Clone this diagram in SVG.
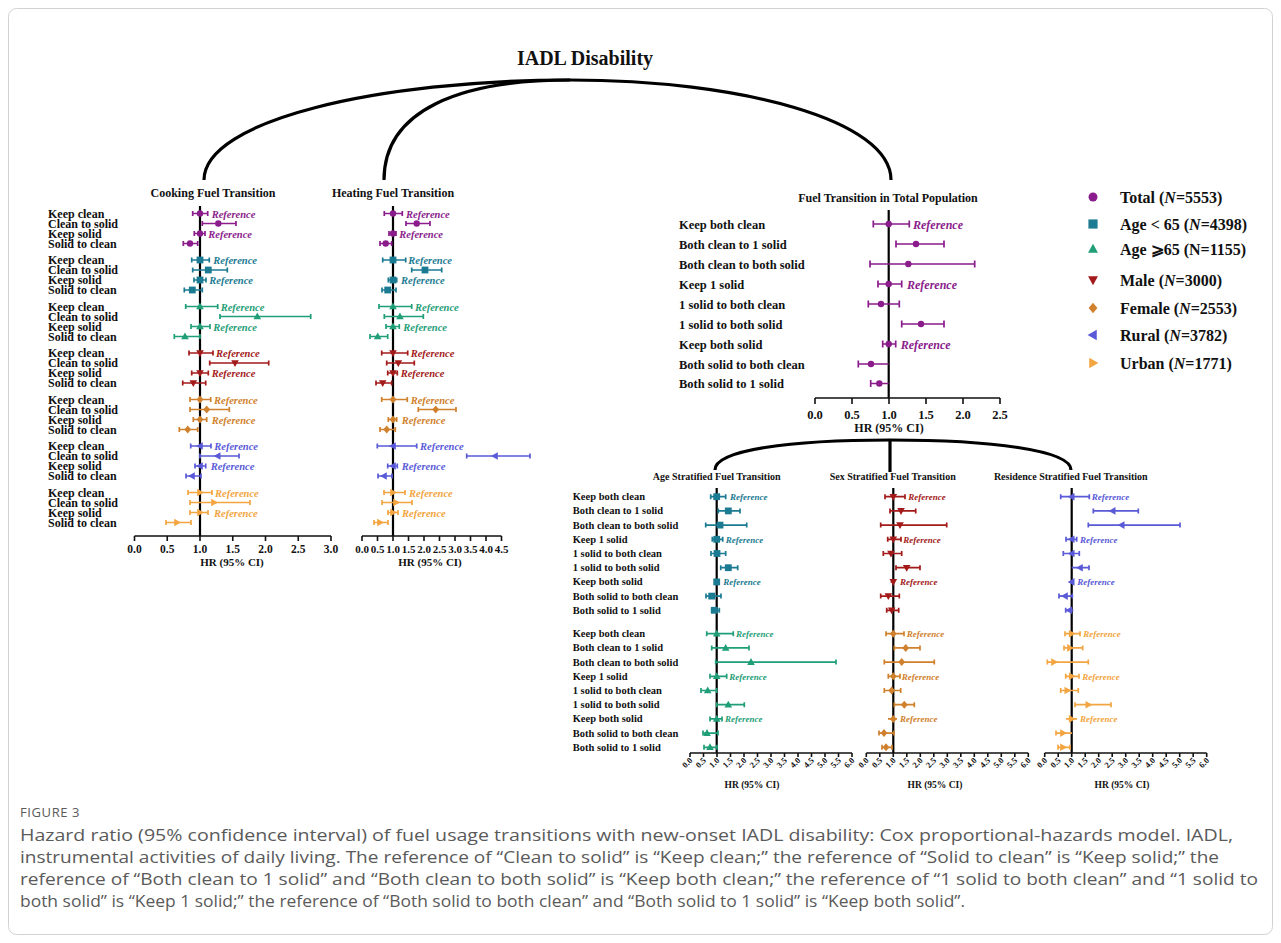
<svg xmlns="http://www.w3.org/2000/svg" width="1281" height="943" viewBox="0 0 1281 943">
<defs>
<style>
.t{font-family:"Liberation Serif","Times New Roman","DejaVu Serif",serif;font-weight:bold;fill:#111}
.rf{font-style:italic}
.ax{fill:none;stroke:#111;stroke-width:1.6}
.vl{fill:none;stroke:#000;stroke-width:2.2}
.br{fill:none;stroke-width:1.7}
.arc{fill:none;stroke:#000;stroke-width:3.2}
.cap{font-family:"Open Sans","Noto Sans",sans-serif;fill:#5a5a5a}
.sP{stroke:#8a1c8c}.fP{fill:#8a1c8c}
.sT{stroke:#1b7b92}.fT{fill:#1b7b92}
.sG{stroke:#1f9e78}.fG{fill:#1f9e78}
.sR{stroke:#a31a1a}.fR{fill:#a31a1a}
.sO{stroke:#d0812d}.fO{fill:#d0812d}
.sB{stroke:#5a5ad8}.fB{fill:#5a5ad8}
.sU{stroke:#f2a541}.fU{fill:#f2a541}
</style>
<circle id="mc" r="3.2"/>
<rect id="ms" x="-3.4" y="-3.4" width="6.8" height="6.8"/>
<path id="mu" d="M0,-4 L3.8,2.8 L-3.8,2.8Z"/>
<path id="mdn" d="M-3.8,-2.8 L3.8,-2.8 L0,4Z"/>
<path id="mdi" d="M0,-4 L3.4,0 L0,4 L-3.4,0Z"/>
<path id="ml" d="M-4,0 L2.8,-3.8 L2.8,3.8Z"/>
<path id="mr" d="M4,0 L-2.8,-3.8 L-2.8,3.8Z"/>
</defs>
<rect x="8.5" y="8.5" width="1264" height="926" rx="8" fill="#fff" stroke="#d2d2d2"/>

<g id="title"><text class="t" x="585" y="65" font-size="20" text-anchor="middle">IADL Disability</text></g>

<g id="connectors">
<path class="arc" d="M204,180 C204,120 380,80 570,80"/>
<path class="arc" d="M384,180 C384,110 460,80 570,80"/>
<path class="arc" d="M570,80 C740,80 891,120 891,180"/>
<path class="arc" stroke-width="2.6" d="M715,470 C715,450 790,440 890,440 C990,440 1071,450 1071,470"/>
<path class="arc" stroke-width="2.6" d="M890,440 V472"/>
</g>

<g id="panel-cooking">
<text class="t" x="213" y="197" font-size="12" text-anchor="middle">Cooking Fuel Transition</text>
<text class="t" font-size="12">
<tspan x="48" y="217.5">Keep clean</tspan><tspan x="48" y="227.5">Clean to solid</tspan><tspan x="48" y="237.5">Keep solid</tspan><tspan x="48" y="247.5">Solid to clean</tspan>
<tspan x="48" y="264">Keep clean</tspan><tspan x="48" y="274">Clean to solid</tspan><tspan x="48" y="284">Keep solid</tspan><tspan x="48" y="294">Solid to clean</tspan>
<tspan x="48" y="310.5">Keep clean</tspan><tspan x="48" y="320.5">Clean to solid</tspan><tspan x="48" y="330.5">Keep solid</tspan><tspan x="48" y="340.5">Solid to clean</tspan>
<tspan x="48" y="357">Keep clean</tspan><tspan x="48" y="367">Clean to solid</tspan><tspan x="48" y="377">Keep solid</tspan><tspan x="48" y="387">Solid to clean</tspan>
<tspan x="48" y="403.5">Keep clean</tspan><tspan x="48" y="413.5">Clean to solid</tspan><tspan x="48" y="423.5">Keep solid</tspan><tspan x="48" y="433.5">Solid to clean</tspan>
<tspan x="48" y="450">Keep clean</tspan><tspan x="48" y="460">Clean to solid</tspan><tspan x="48" y="470">Keep solid</tspan><tspan x="48" y="480">Solid to clean</tspan>
<tspan x="48" y="496.5">Keep clean</tspan><tspan x="48" y="506.5">Clean to solid</tspan><tspan x="48" y="516.5">Keep solid</tspan><tspan x="48" y="526.5">Solid to clean</tspan>
</text>
<path class="vl" d="M200,206V536"/>
<path class="br sP" d="M192.7,213.5H207.7M192.7,211V216M207.7,211V216M202.3,223.5H236M202.3,221V226M236,221V226M194.3,233.5H205M194.3,231V236M205,231V236M183.3,243.5H197.7M183.3,241V246M197.7,241V246"/>
<g class="fP"><use href="#mc" x="200" y="213.5"/><use href="#mc" x="218.3" y="223.5"/><use href="#mc" x="200" y="233.5"/><use href="#mc" x="190" y="243.5"/></g>
<path class="br sT" d="M191.7,260H209.3M191.7,257.5V262.5M209.3,257.5V262.5M192.7,270H227.3M192.7,267.5V272.5M227.3,267.5V272.5M194,280H206M194,277.5V282.5M206,277.5V282.5M184.3,290H202.3M184.3,287.5V292.5M202.3,287.5V292.5"/>
<g class="fT"><use href="#ms" x="200" y="260"/><use href="#ms" x="208.3" y="270"/><use href="#ms" x="200" y="280"/><use href="#ms" x="192.3" y="290"/></g>
<path class="br sG" d="M185.7,306.5H217.7M185.7,304V309M217.7,304V309M220,316.5H310.7M220,314V319M310.7,314V319M191,326.5H210M191,324V329M210,324V329M174.3,336.5H200M174.3,334V339M200,334V339"/>
<g class="fG"><use href="#mu" x="200" y="306.5"/><use href="#mu" x="257.3" y="316.5"/><use href="#mu" x="200" y="326.5"/><use href="#mu" x="185" y="336.5"/></g>
<path class="br sR" d="M189,353H213M189,350.5V355.5M213,350.5V355.5M209.7,363H268.7M209.7,360.5V365.5M268.7,360.5V365.5M191.7,373H208.3M191.7,370.5V375.5M208.3,370.5V375.5M182.7,383H205.7M182.7,380.5V385.5M205.7,380.5V385.5"/>
<g class="fR"><use href="#mdn" x="200" y="353"/><use href="#mdn" x="235" y="363"/><use href="#mdn" x="200" y="373"/><use href="#mdn" x="193.3" y="383"/></g>
<path class="br sO" d="M190,399.5H210.7M190,397V402M210.7,397V402M190,409.5H229.3M190,407V412M229.3,407V412M193.3,419.5H206.7M193.3,417V422M206.7,417V422M179.3,429.5H197.7M179.3,427V432M197.7,427V432"/>
<g class="fO"><use href="#mdi" x="200" y="399.5"/><use href="#mdi" x="206.7" y="409.5"/><use href="#mdi" x="200" y="419.5"/><use href="#mdi" x="187.7" y="429.5"/></g>
<path class="br sB" d="M190.7,446H211M190.7,443.5V448.5M211,443.5V448.5M200,456H239M200,453.5V458.5M239,453.5V458.5M195,466H205.7M195,463.5V468.5M205.7,463.5V468.5M186,476H201M186,473.5V478.5M201,473.5V478.5"/>
<g class="fB"><use href="#ml" x="200" y="446"/><use href="#ml" x="217.7" y="456"/><use href="#ml" x="200" y="466"/><use href="#ml" x="192" y="476"/></g>
<path class="br sU" d="M188,492.5H212M188,490V495M212,490V495M190,502.5H250M190,500V505M250,500V505M190,512.5H208M190,510V515M208,510V515M166,522.5H191M166,520V525M191,520V525"/>
<g class="fU"><use href="#mr" x="200" y="492.5"/><use href="#mr" x="214" y="502.5"/><use href="#mr" x="200" y="512.5"/><use href="#mr" x="177" y="522.5"/></g>
<g class="t rf" font-size="10.5">
<text class="fP" x="211.7" y="217.5">Reference</text><text class="fP" x="208.3" y="237.5">Reference</text>
<text class="fT" x="213.3" y="264">Reference</text><text class="fT" x="209.3" y="284">Reference</text>
<text class="fG" x="220.7" y="310.5">Reference</text><text class="fG" x="213.3" y="330.5">Reference</text>
<text class="fR" x="216" y="357">Reference</text><text class="fR" x="211.7" y="377">Reference</text>
<text class="fO" x="214" y="403.5">Reference</text><text class="fO" x="211.7" y="423.5">Reference</text>
<text class="fB" x="214.3" y="450">Reference</text><text class="fB" x="210.7" y="470">Reference</text>
<text class="fU" x="215" y="496.5">Reference</text><text class="fU" x="214" y="516.5">Reference</text>
</g>
<path class="ax" d="M134.5,536H331M134.5,536V541M167.25,536V541M200,536V541M232.75,536V541M265.5,536V541M298.25,536V541M331,536V541"/>
<g class="t" font-size="11.5" text-anchor="middle"><text x="134.5" y="553">0.0</text><text x="167.25" y="553">0.5</text><text x="200" y="553">1.0</text><text x="232.75" y="553">1.5</text><text x="265.5" y="553">2.0</text><text x="298.25" y="553">2.5</text><text x="331" y="553">3.0</text></g>
<text class="t" x="232" y="566" font-size="11" text-anchor="middle">HR (95% CI)</text>
</g>

<g id="panel-heating">
<text class="t" x="393" y="197" font-size="12" text-anchor="middle">Heating Fuel Transition</text>
<path class="vl" d="M393,206V536"/>
<path class="br sP" d="M384.3,213.5H402.3M384.3,211V216M402.3,211V216M406,223.5H430M406,221V226M430,221V226M389,233.5H396M389,231V236M396,231V236M380,243.5H391.7M380,241V246M391.7,241V246"/>
<g class="fP"><use href="#mc" x="393" y="213.5"/><use href="#mc" x="416.7" y="223.5"/><use href="#mc" x="393" y="233.5"/><use href="#mc" x="385.7" y="243.5"/></g>
<path class="br sT" d="M382.7,260H405.7M382.7,257.5V262.5M405.7,257.5V262.5M411.7,270H441.7M411.7,267.5V272.5M441.7,267.5V272.5M388.3,280H396.7M388.3,277.5V282.5M396.7,277.5V282.5M382,290H396M382,287.5V292.5M396,287.5V292.5"/>
<g class="fT"><use href="#ms" x="393" y="260"/><use href="#ms" x="425" y="270"/><use href="#ms" x="393" y="280"/><use href="#ms" x="387.7" y="290"/></g>
<path class="br sG" d="M379,306.5H411.7M379,304V309M411.7,304V309M384.3,316.5H423.3M384.3,314V319M423.3,314V319M386,326.5H399.3M386,324V329M399.3,324V329M370,336.5H387.7M370,334V339M387.7,334V339"/>
<g class="fG"><use href="#mu" x="393" y="306.5"/><use href="#mu" x="400" y="316.5"/><use href="#mu" x="393" y="326.5"/><use href="#mu" x="377.7" y="336.5"/></g>
<path class="br sR" d="M381.7,353H407.7M381.7,350.5V355.5M407.7,350.5V355.5M386.7,363H414.3M386.7,360.5V365.5M414.3,360.5V365.5M387.7,373H397.3M387.7,370.5V375.5M397.3,370.5V375.5M376,383H391.7M376,380.5V385.5M391.7,380.5V385.5"/>
<g class="fR"><use href="#mdn" x="393" y="353"/><use href="#mdn" x="398.3" y="363"/><use href="#mdn" x="393" y="373"/><use href="#mdn" x="382.7" y="383"/></g>
<path class="br sO" d="M381.7,399.5H407.3M381.7,397V402M407.3,397V402M418.3,409.5H456M418.3,407V412M456,407V412M388.3,419.5H396.7M388.3,417V422M396.7,417V422M380,429.5H395.3M380,427V432M395.3,427V432"/>
<g class="fO"><use href="#mdi" x="393" y="399.5"/><use href="#mdi" x="435.7" y="409.5"/><use href="#mdi" x="393" y="419.5"/><use href="#mdi" x="386.7" y="429.5"/></g>
<path class="br sB" d="M377.3,446H416.7M377.3,443.5V448.5M416.7,443.5V448.5M466.7,456H530M466.7,453.5V458.5M530,453.5V458.5M387.7,466H397.3M387.7,463.5V468.5M397.3,463.5V468.5M378,476H392M378,473.5V478.5M392,473.5V478.5"/>
<g class="fB"><use href="#ml" x="393" y="446"/><use href="#ml" x="495" y="456"/><use href="#ml" x="393" y="466"/><use href="#ml" x="384" y="476"/></g>
<path class="br sU" d="M384,492.5H405M384,490V495M405,490V495M382,502.5H412M382,500V505M412,500V505M388,512.5H398M388,510V515M398,510V515M374,522.5H388M374,520V525M388,520V525"/>
<g class="fU"><use href="#mr" x="393" y="492.5"/><use href="#mr" x="396" y="502.5"/><use href="#mr" x="393" y="512.5"/><use href="#mr" x="380" y="522.5"/></g>
<g class="t rf" font-size="10.5">
<text class="fP" x="406" y="217.5">Reference</text><text class="fP" x="399.3" y="237.5">Reference</text>
<text class="fT" x="408.3" y="264">Reference</text><text class="fT" x="401" y="284">Reference</text>
<text class="fG" x="415" y="310.5">Reference</text><text class="fG" x="403.3" y="330.5">Reference</text>
<text class="fR" x="410.7" y="357">Reference</text><text class="fR" x="400.7" y="377">Reference</text>
<text class="fO" x="410.7" y="403.5">Reference</text><text class="fO" x="401.7" y="423.5">Reference</text>
<text class="fB" x="420" y="450">Reference</text><text class="fB" x="401.7" y="470">Reference</text>
<text class="fU" x="409" y="496.5">Reference</text><text class="fU" x="402" y="516.5">Reference</text>
</g>
<path class="ax" d="M362,536H501.5M362,536V541M377.5,536V541M393,536V541M408.5,536V541M424,536V541M439.5,536V541M455,536V541M470.5,536V541M486,536V541M501.5,536V541"/>
<g class="t" font-size="11" text-anchor="middle"><text x="362" y="553">0.0</text><text x="377.5" y="553">0.5</text><text x="393" y="553">1.0</text><text x="408.5" y="553">1.5</text><text x="424" y="553">2.0</text><text x="439.5" y="553">2.5</text><text x="455" y="553">3.0</text><text x="470.5" y="553">3.5</text><text x="486" y="553">4.0</text><text x="501.5" y="553">4.5</text></g>
<text class="t" x="430" y="566" font-size="11" text-anchor="middle">HR (95% CI)</text>
</g>

<g id="panel-total">
<text class="t" x="888" y="202" font-size="12" text-anchor="middle">Fuel Transition in Total Population</text>
<text class="t" font-size="12.5">
<tspan x="679" y="228.5">Keep both clean</tspan><tspan x="679" y="248.5">Both clean to 1 solid</tspan><tspan x="679" y="268.5">Both clean to both solid</tspan><tspan x="679" y="288.5">Keep 1 solid</tspan><tspan x="679" y="308.5">1 solid to both clean</tspan><tspan x="679" y="328.5">1 solid to both solid</tspan><tspan x="679" y="348.5">Keep both solid</tspan><tspan x="679" y="368.5">Both solid to both clean</tspan><tspan x="679" y="388">Both solid to 1 solid</tspan>
</text>
<path class="vl" d="M888.7,210V398"/>
<path class="br sP" stroke-width="2" d="M873.3,224H909.3M873.3,220.5V227.5M909.3,220.5V227.5M896,244H944M896,240.5V247.5M944,240.5V247.5M870,264H974.7M870,260.5V267.5M974.7,260.5V267.5M878,284H901.7M878,280.5V287.5M901.7,280.5V287.5M868.3,304H899.3M868.3,300.5V307.5M899.3,300.5V307.5M901.7,324H944M901.7,320.5V327.5M944,320.5V327.5M882.7,344H895.7M882.7,340.5V347.5M895.7,340.5V347.5M858.3,364H888.7M858.3,360.5V367.5M870.7,383.5H888.7M870.7,380V387"/>
<g class="fP"><use href="#mc" x="888.7" y="224"/><use href="#mc" x="916" y="244"/><use href="#mc" x="908.3" y="264"/><use href="#mc" x="888.7" y="284"/><use href="#mc" x="881" y="304"/><use href="#mc" x="921" y="324"/><use href="#mc" x="888.7" y="344"/><use href="#mc" x="871" y="364"/><use href="#mc" x="879.3" y="383.5"/></g>
<g class="t rf fP" font-size="12"><text x="913" y="228.5">Reference</text><text x="907" y="288.5">Reference</text><text x="900.7" y="348.5">Reference</text></g>
<path class="ax" d="M815,398H1000M815,398V404M852,398V404M889,398V404M926,398V404M963,398V404M1000,398V404"/>
<g class="t" font-size="12.5" text-anchor="middle"><text x="815" y="419">0.0</text><text x="852" y="419">0.5</text><text x="889" y="419">1.0</text><text x="926" y="419">1.5</text><text x="963" y="419">2.0</text><text x="1000" y="419">2.5</text></g>
<text class="t" x="889" y="432" font-size="12" text-anchor="middle">HR (95% CI)</text>
</g>

<g id="legend">
<use class="fP" href="#mc" transform="translate(1093,197) scale(1.4)"/>
<use class="fT" href="#ms" transform="translate(1093,224) scale(1.35)"/>
<use class="fG" href="#mu" transform="translate(1093,249) scale(1.3)"/>
<use class="fR" href="#mdn" transform="translate(1093,280) scale(1.3)"/>
<use class="fO" href="#mdi" transform="translate(1093,308) scale(1.3)"/>
<use class="fB" href="#ml" transform="translate(1093,335) scale(1.35)"/>
<use class="fU" href="#mr" transform="translate(1093,363) scale(1.35)"/>
<g class="t" font-size="16">
<text x="1120" y="202.5">Total (<tspan font-style="italic">N</tspan>=5553)</text>
<text x="1120" y="229.5">Age &lt; 65 (<tspan font-style="italic">N</tspan>=4398)</text>
<text x="1120" y="254.5">Age ⩾65 (N=1155)</text>
<text x="1120" y="285.5">Male (<tspan font-style="italic">N</tspan>=3000)</text>
<text x="1120" y="313.5">Female (<tspan font-style="italic">N</tspan>=2553)</text>
<text x="1120" y="340.5">Rural (<tspan font-style="italic">N</tspan>=3782)</text>
<text x="1120" y="368.5">Urban (<tspan font-style="italic">N</tspan>=1771)</text>
</g>
</g>

<g id="panel-age">
<text class="t" x="716.7" y="480" font-size="10" text-anchor="middle">Age Stratified Fuel Transition</text>
<text class="t" font-size="10.5">
<tspan x="572.7" y="500.2">Keep both clean</tspan><tspan x="572.7" y="514.4">Both clean to 1 solid</tspan><tspan x="572.7" y="528.6">Both clean to both solid</tspan><tspan x="572.7" y="542.8">Keep 1 solid</tspan><tspan x="572.7" y="557">1 solid to both clean</tspan><tspan x="572.7" y="571.2">1 solid to both solid</tspan><tspan x="572.7" y="585.4">Keep both solid</tspan><tspan x="572.7" y="599.6">Both solid to both clean</tspan><tspan x="572.7" y="613.8">Both solid to 1 solid</tspan>
<tspan x="572.7" y="637.2">Keep both clean</tspan><tspan x="572.7" y="651.4">Both clean to 1 solid</tspan><tspan x="572.7" y="665.6">Both clean to both solid</tspan><tspan x="572.7" y="679.8">Keep 1 solid</tspan><tspan x="572.7" y="694">1 solid to both clean</tspan><tspan x="572.7" y="708.2">1 solid to both solid</tspan><tspan x="572.7" y="722.4">Keep both solid</tspan><tspan x="572.7" y="736.6">Both solid to both clean</tspan><tspan x="572.7" y="750.8">Both solid to 1 solid</tspan>
</text>
<path class="vl" d="M716.7,488V753"/>
<path class="br sT" d="M710.7,496.7H725.7M710.7,494.2V499.2M725.7,494.2V499.2M718.3,510.9H740M718.3,508.4V513.4M740,508.4V513.4M705.7,525.1H746.7M705.7,522.6V527.6M746.7,522.6V527.6M712.3,539.3H722.7M712.3,536.8V541.8M722.7,536.8V541.8M711,553.5H725.7M711,551V556M725.7,551V556M720.7,567.7H737.7M720.7,565.2V570.2M737.7,565.2V570.2M714,581.9H719.3M706,596.1H721M706,593.6V598.6M721,593.6V598.6M711.7,610.3H719.3M711.7,607.8V612.8M719.3,607.8V612.8"/>
<g class="fT"><use href="#ms" x="716.7" y="496.7"/><use href="#ms" x="728.3" y="510.9"/><use href="#ms" x="720" y="525.1"/><use href="#ms" x="716.7" y="539.3"/><use href="#ms" x="717" y="553.5"/><use href="#ms" x="728.3" y="567.7"/><use href="#ms" x="716.7" y="581.9"/><use href="#ms" x="711.7" y="596.1"/><use href="#ms" x="714.3" y="610.3"/></g>
<path class="br sG" d="M706.7,633.7H733.3M706.7,631.2V636.2M733.3,631.2V636.2M711.7,647.9H749M711.7,645.4V650.4M749,645.4V650.4M715.7,662.1H836M715.7,659.6V664.6M836,659.6V664.6M710,676.3H726.7M710,673.8V678.8M726.7,673.8V678.8M701,690.5H716.7M701,688V693M716.7,688V693M716.7,704.7H744.3M716.7,702.2V707.2M744.3,702.2V707.2M710,718.9H722M710,716.4V721.4M722,716.4V721.4M703,733.1H718M703,730.6V735.6M718,730.6V735.6M704,747.3H717M704,744.8V749.8M717,744.8V749.8"/>
<g class="fG"><use href="#mu" x="716.7" y="633.7"/><use href="#mu" x="725.7" y="647.9"/><use href="#mu" x="751" y="662.1"/><use href="#mu" x="716.7" y="676.3"/><use href="#mu" x="707.7" y="690.5"/><use href="#mu" x="728.3" y="704.7"/><use href="#mu" x="716.7" y="718.9"/><use href="#mu" x="707" y="733.1"/><use href="#mu" x="710" y="747.3"/></g>
<g class="t rf" font-size="9">
<text class="fT" x="730" y="499.9">Reference</text><text class="fT" x="725.7" y="542.5">Reference</text><text class="fT" x="723.3" y="585.1">Reference</text>
<text class="fG" x="736" y="636.9">Reference</text><text class="fG" x="729.3" y="679.5">Reference</text><text class="fG" x="725" y="722.1">Reference</text>
</g>
<path class="ax" d="M690,753H852M690,753V757M703.5,753V757M717,753V757M730.5,753V757M744,753V757M757.5,753V757M771,753V757M784.5,753V757M798,753V757M811.5,753V757M825,753V757M838.5,753V757M852,753V757"/>
<g class="t" font-size="8.5" text-anchor="end">
<text transform="translate(693,761) rotate(-45)">0.0</text><text transform="translate(706.5,761) rotate(-45)">0.5</text><text transform="translate(720,761) rotate(-45)">1.0</text><text transform="translate(733.5,761) rotate(-45)">1.5</text><text transform="translate(747,761) rotate(-45)">2.0</text><text transform="translate(760.5,761) rotate(-45)">2.5</text><text transform="translate(774,761) rotate(-45)">3.0</text><text transform="translate(787.5,761) rotate(-45)">3.5</text><text transform="translate(801,761) rotate(-45)">4.0</text><text transform="translate(814.5,761) rotate(-45)">4.5</text><text transform="translate(828,761) rotate(-45)">5.0</text><text transform="translate(841.5,761) rotate(-45)">5.5</text><text transform="translate(855,761) rotate(-45)">6.0</text>
</g>
<text class="t" x="752" y="788" font-size="9.5" text-anchor="middle">HR (95% CI)</text>
</g>

<g id="panel-sex">
<text class="t" x="892.7" y="480" font-size="10" text-anchor="middle">Sex Stratified Fuel Transition</text>
<path class="vl" d="M893.3,488V753"/>
<path class="br sR" d="M885,496.7H905M885,494.2V499.2M905,494.2V499.2M890,510.9H915.7M890,508.4V513.4M915.7,508.4V513.4M880.7,525.1H946.7M880.7,522.6V527.6M946.7,522.6V527.6M887.7,539.3H901M887.7,536.8V541.8M901,536.8V541.8M883.3,553.5H901.7M883.3,551V556M901.7,551V556M896,567.7H920M896,565.2V570.2M920,565.2V570.2M890.7,581.9H895M880.7,596.1H899.3M880.7,593.6V598.6M899.3,593.6V598.6M886.7,610.3H898.7M886.7,607.8V612.8M898.7,607.8V612.8"/>
<g class="fR"><use href="#mdn" x="893.3" y="496.7"/><use href="#mdn" x="901" y="510.9"/><use href="#mdn" x="900" y="525.1"/><use href="#mdn" x="893.3" y="539.3"/><use href="#mdn" x="891" y="553.5"/><use href="#mdn" x="906.7" y="567.7"/><use href="#mdn" x="893.3" y="581.9"/><use href="#mdn" x="888.3" y="596.1"/><use href="#mdn" x="891.7" y="610.3"/></g>
<path class="br sO" d="M886,633.7H904M886,631.2V636.2M904,631.2V636.2M894.3,647.9H920M894.3,645.4V650.4M920,645.4V650.4M884.3,662.1H934.3M884.3,659.6V664.6M934.3,659.6V664.6M888.3,676.3H900M888.3,673.8V678.8M900,673.8V678.8M884.3,690.5H900.7M884.3,688V693M900.7,688V693M894.3,704.7H914.3M894.3,702.2V707.2M914.3,702.2V707.2M888,718.9H897M879,733.1H894M879,730.6V735.6M894,730.6V735.6M882,747.3H892M882,744.8V749.8M892,744.8V749.8"/>
<g class="fO"><use href="#mdi" x="893.3" y="633.7"/><use href="#mdi" x="905.7" y="647.9"/><use href="#mdi" x="901.7" y="662.1"/><use href="#mdi" x="893.3" y="676.3"/><use href="#mdi" x="891.7" y="690.5"/><use href="#mdi" x="904.3" y="704.7"/><use href="#mdi" x="893.3" y="718.9"/><use href="#mdi" x="884" y="733.1"/><use href="#mdi" x="886" y="747.3"/></g>
<g class="t rf" font-size="9">
<text class="fR" x="908.3" y="499.9">Reference</text><text class="fR" x="903.3" y="542.5">Reference</text><text class="fR" x="900" y="585.1">Reference</text>
<text class="fO" x="906.7" y="636.9">Reference</text><text class="fO" x="901.7" y="679.5">Reference</text><text class="fO" x="900" y="722.1">Reference</text>
</g>
<path class="ax" d="M866.3,753H1028.3M866.3,753V757M879.8,753V757M893.3,753V757M906.8,753V757M920.3,753V757M933.8,753V757M947.3,753V757M960.8,753V757M974.3,753V757M987.8,753V757M1001.3,753V757M1014.8,753V757M1028.3,753V757"/>
<g class="t" font-size="8.5" text-anchor="end">
<text transform="translate(869.3,761) rotate(-45)">0.0</text><text transform="translate(882.8,761) rotate(-45)">0.5</text><text transform="translate(896.3,761) rotate(-45)">1.0</text><text transform="translate(909.8,761) rotate(-45)">1.5</text><text transform="translate(923.3,761) rotate(-45)">2.0</text><text transform="translate(936.8,761) rotate(-45)">2.5</text><text transform="translate(950.3,761) rotate(-45)">3.0</text><text transform="translate(963.8,761) rotate(-45)">3.5</text><text transform="translate(977.3,761) rotate(-45)">4.0</text><text transform="translate(990.8,761) rotate(-45)">4.5</text><text transform="translate(1004.3,761) rotate(-45)">5.0</text><text transform="translate(1017.8,761) rotate(-45)">5.5</text><text transform="translate(1031.3,761) rotate(-45)">6.0</text>
</g>
<text class="t" x="935" y="788" font-size="9.5" text-anchor="middle">HR (95% CI)</text>
</g>

<g id="panel-residence">
<text class="t" x="1070.8" y="480" font-size="10" text-anchor="middle">Residence Stratified Fuel Transition</text>
<path class="vl" d="M1071.7,488V753"/>
<path class="br sB" d="M1060.7,496.7H1089.3M1060.7,494.2V499.2M1089.3,494.2V499.2M1093.3,510.9H1138.3M1093.3,508.4V513.4M1138.3,508.4V513.4M1088.3,525.1H1180M1088.3,522.6V527.6M1180,522.6V527.6M1066,539.3H1076.7M1066,536.8V541.8M1076.7,536.8V541.8M1063.3,553.5H1079.3M1063.3,551V556M1079.3,551V556M1071.7,567.7H1089M1089,565.2V570.2M1070,581.9H1073.3M1059,596.1H1072.3M1059,593.6V598.6M1072.3,593.6V598.6M1065.7,610.3H1073.3M1065.7,607.8V612.8"/>
<g class="fB"><use href="#ml" x="1071.7" y="496.7"/><use href="#ml" x="1112.7" y="510.9"/><use href="#ml" x="1121.7" y="525.1"/><use href="#ml" x="1071.7" y="539.3"/><use href="#ml" x="1071.7" y="553.5"/><use href="#ml" x="1080" y="567.7"/><use href="#ml" x="1071.7" y="581.9"/><use href="#ml" x="1065" y="596.1"/><use href="#ml" x="1069.3" y="610.3"/></g>
<path class="br sU" d="M1065,633.7H1080M1065,631.2V636.2M1080,631.2V636.2M1064,647.9H1082.7M1064,645.4V650.4M1082.7,645.4V650.4M1047.3,662.1H1088.3M1047.3,659.6V664.6M1088.3,659.6V664.6M1065.7,676.3H1079M1065.7,673.8V678.8M1079,673.8V678.8M1060.7,690.5H1078.3M1060.7,688V693M1078.3,688V693M1075,704.7H1111M1075,702.2V707.2M1111,702.2V707.2M1066,718.9H1077M1056,733.1H1072M1056,730.6V735.6M1058,747.3H1070M1058,744.8V749.8M1070,744.8V749.8"/>
<g class="fU"><use href="#mr" x="1071.7" y="633.7"/><use href="#mr" x="1070" y="647.9"/><use href="#mr" x="1054" y="662.1"/><use href="#mr" x="1071.7" y="676.3"/><use href="#mr" x="1067.3" y="690.5"/><use href="#mr" x="1088.3" y="704.7"/><use href="#mr" x="1071.7" y="718.9"/><use href="#mr" x="1063" y="733.1"/><use href="#mr" x="1063" y="747.3"/></g>
<g class="t rf" font-size="9">
<text class="fB" x="1091.7" y="499.9">Reference</text><text class="fB" x="1080" y="542.5">Reference</text><text class="fB" x="1077.3" y="585.1">Reference</text>
<text class="fU" x="1083.3" y="636.9">Reference</text><text class="fU" x="1082.3" y="679.5">Reference</text><text class="fU" x="1080" y="722.1">Reference</text>
</g>
<path class="ax" d="M1044.7,753H1206.7M1044.7,753V757M1058.2,753V757M1071.7,753V757M1085.2,753V757M1098.7,753V757M1112.2,753V757M1125.7,753V757M1139.2,753V757M1152.7,753V757M1166.2,753V757M1179.7,753V757M1193.2,753V757M1206.7,753V757"/>
<g class="t" font-size="8.5" text-anchor="end">
<text transform="translate(1047.7,761) rotate(-45)">0.0</text><text transform="translate(1061.2,761) rotate(-45)">0.5</text><text transform="translate(1074.7,761) rotate(-45)">1.0</text><text transform="translate(1088.2,761) rotate(-45)">1.5</text><text transform="translate(1101.7,761) rotate(-45)">2.0</text><text transform="translate(1115.2,761) rotate(-45)">2.5</text><text transform="translate(1128.7,761) rotate(-45)">3.0</text><text transform="translate(1142.2,761) rotate(-45)">3.5</text><text transform="translate(1155.7,761) rotate(-45)">4.0</text><text transform="translate(1169.2,761) rotate(-45)">4.5</text><text transform="translate(1182.7,761) rotate(-45)">5.0</text><text transform="translate(1196.2,761) rotate(-45)">5.5</text><text transform="translate(1209.7,761) rotate(-45)">6.0</text>
</g>
<text class="t" x="1122" y="788" font-size="9.5" text-anchor="middle">HR (95% CI)</text>
</g>

<g id="caption">
<text class="cap" x="20" y="817" font-size="13" letter-spacing="0.6" fill="#666">FIGURE 3</text>
<g class="cap" font-size="16.5">
<text x="20" y="841" textLength="1213" lengthAdjust="spacingAndGlyphs">Hazard ratio (95% confidence interval) of fuel usage transitions with new-onset IADL disability: Cox proportional-hazards model. IADL,</text>
<text x="20" y="863" textLength="1199" lengthAdjust="spacingAndGlyphs">instrumental activities of daily living. The reference of “Clean to solid” is “Keep clean;” the reference of “Solid to clean” is “Keep solid;” the</text>
<text x="20" y="885" textLength="1238" lengthAdjust="spacingAndGlyphs">reference of “Both clean to 1 solid” and “Both clean to both solid” is “Keep both clean;” the reference of “1 solid to both clean” and “1 solid to</text>
<text x="20" y="907" textLength="945" lengthAdjust="spacingAndGlyphs">both solid” is “Keep 1 solid;” the reference of “Both solid to both clean” and “Both solid to 1 solid” is “Keep both solid”.</text>
</g>
</g>
</svg>
